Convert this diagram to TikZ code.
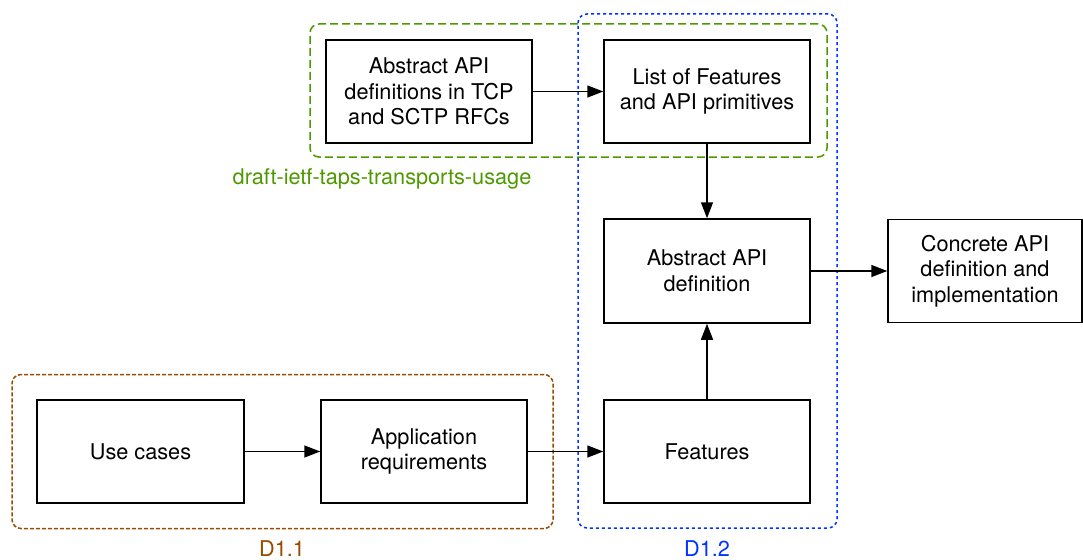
\documentclass[tikz,border=0pt]{standalone}
\usepackage{fontspec}
\setmainfont{TeX Gyre Heros}
\usetikzlibrary{arrows.meta}
\definecolor{grpgreen}{RGB}{77,153,0}
\definecolor{grpbrown}{RGB}{153,76,0}
\definecolor{grpblue}{RGB}{0,51,255}
\tikzset{
  box/.style={draw=black, line width=1.5pt, fill=white, rectangle, align=center,
    font=\fontsize{21.7}{25.5}\selectfont, inner sep=0pt},
  grp/.style={rectangle, rounded corners=9pt, line width=1.5pt, inner sep=0pt},
  grplabel/.style={font=\fontsize{21.7}{25.5}\selectfont, inner sep=0pt},
  conn/.style={line width=1.5pt, -{Triangle[length=16pt,width=12pt]}},
}
\begin{document}
\begin{tikzpicture}[x=1pt,y=-1pt]
\useasboundingbox (0,0) rectangle (1083,559);
% groups
\node[grp, draw=grpgreen, dash pattern=on 8pt off 4pt, minimum width=517pt, minimum height=133pt] (ggreen) at (568.5,90.5) {};
\node[grp, draw=grpbrown, dash pattern=on 4pt off 2pt, minimum width=541pt, minimum height=154pt] (gbrown) at (282.5,451.5) {};
\node[grp, draw=grpblue, dash pattern=on 3pt off 3pt, minimum width=259pt, minimum height=514pt] (gblue) at (707.5,271) {};
\node[grplabel, text=grpgreen] (lgreen) at (382,179) {draft-ietf-taps-transports-usage};
\node[grplabel, text=grpbrown] (lbrown) at (282,549) {D1.1};
\node[grplabel, text=grpblue] (lblue) at (707,549) {D1.2};
% boxes
\node[box, minimum width=206pt, minimum height=103pt] (absdefs) at (429,91.5) {Abstract API\\definitions in TCP\\and SCTP RFCs};
\node[box, minimum width=206pt, minimum height=103pt] (list) at (707,91.5) {List of Features\\and API primitives};
\node[box, minimum width=206pt, minimum height=104pt] (absapi) at (707,271) {Abstract API\\definition};
\node[box, minimum width=194pt, minimum height=103pt] (concrete) at (985,271) {Concrete API\\definition and\\implementation};
\node[box, minimum width=207pt, minimum height=103pt] (usecases) at (140.5,451.5) {Use cases};
\node[box, minimum width=206pt, minimum height=103pt] (appreq) at (424,451.5) {Application\\requirements};
\node[box, minimum width=206pt, minimum height=103pt] (features) at (707,451.5) {Features};
% connectors
\draw[conn] (absdefs) -- (list);
\draw[conn] (list) -- (absapi);
\draw[conn] (absapi) -- (concrete);
\draw[conn] (usecases) -- (appreq);
\draw[conn] (appreq) -- (features);
\draw[conn] (features) -- (absapi);
\end{tikzpicture}
\end{document}
